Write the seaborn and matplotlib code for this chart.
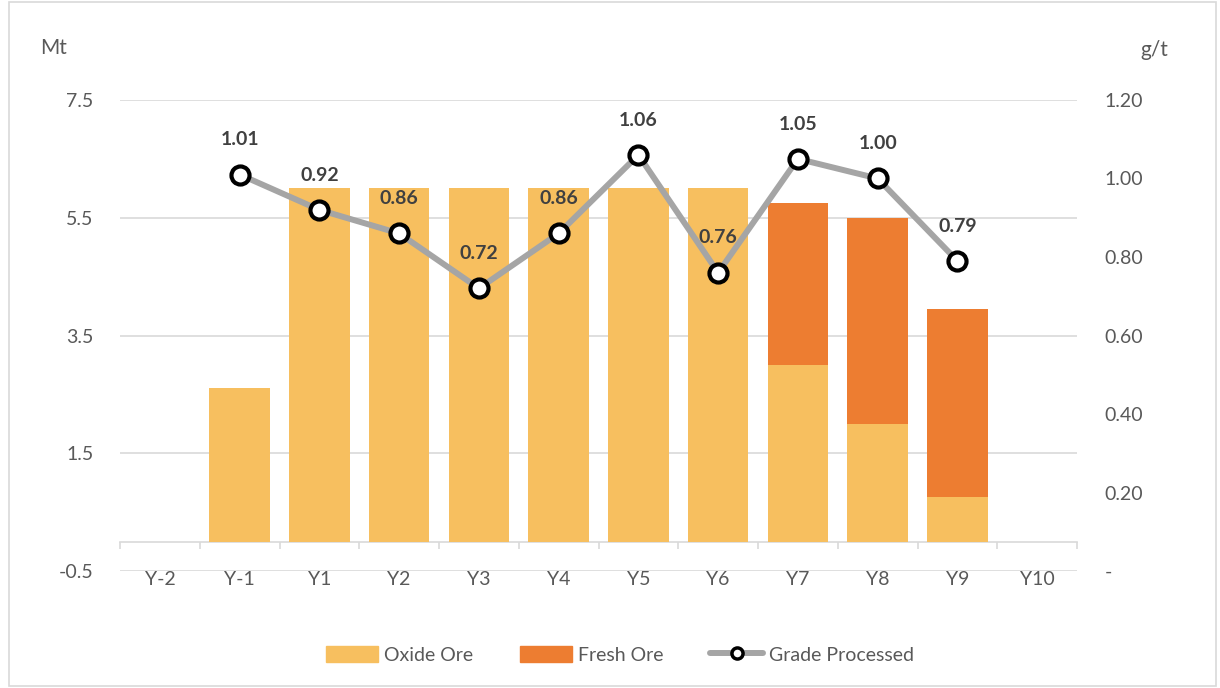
import numpy as np
import pandas as pd
import seaborn as sns
import matplotlib.pyplot as plt
from matplotlib.patches import Patch, Rectangle
from matplotlib.lines import Line2D

# data
years = ['Y-2', 'Y-1', 'Y1', 'Y2', 'Y3', 'Y4', 'Y5', 'Y6', 'Y7', 'Y8', 'Y9', 'Y10']
oxide = [0, 2.6, 6.0, 6.0, 6.0, 6.0, 6.0, 6.0, 3.0, 2.0, 0.75, 0]
fresh = [0, 0, 0, 0, 0, 0, 0, 0, 2.75, 3.5, 3.2, 0]
grade_years = ['Y-1', 'Y1', 'Y2', 'Y3', 'Y4', 'Y5', 'Y6', 'Y7', 'Y8', 'Y9']
grade = [1.01, 0.92, 0.86, 0.72, 0.86, 1.06, 0.76, 1.05, 1.00, 0.79]

oxide_col = '#F7BF5F'
fresh_col = '#ED7D31'
line_col = '#A5A5A5'
txt_col = '#595959'

sns.set_style('white')
plt.rcParams['font.family'] = ['Lato', 'DejaVu Sans']

df = pd.DataFrame({'year': years, 'oxide': oxide, 'fresh': fresh})
df['total'] = df['oxide'] + df['fresh']

fig = plt.figure(figsize=(12.2, 6.88), dpi=100)
ax = fig.add_axes([0.0984, 0.170, 0.7844, 0.6847])

# stacked bars: total first, oxide over it
sns.barplot(data=df, x='year', y='total', color=fresh_col, width=0.76,
            saturation=1, linewidth=0, ax=ax, zorder=2)
sns.barplot(data=df, x='year', y='oxide', color=oxide_col, width=0.76,
            saturation=1, linewidth=0, ax=ax, zorder=3)

ax.set_ylim(-0.5, 7.5)
ax.set_xlim(-0.5, len(years) - 0.5)
ax.set_yticks([-0.5, 1.5, 3.5, 5.5, 7.5])
ax.set_yticklabels(['-0.5', '1.5', '3.5', '5.5', '7.5'])
ax.yaxis.grid(True, color='#D9D9D9', linewidth=1.2, zorder=0)
ax.set_axisbelow(True)
ax.set_xlabel('')
ax.set_ylabel('')
for s in ['top', 'right', 'left']:
    ax.spines[s].set_visible(False)
ax.spines['bottom'].set_position(('data', 0))
ax.spines['bottom'].set_color('#D9D9D9')
ax.spines['bottom'].set_linewidth(1.2)
ax.set_xticks(np.arange(-0.5, len(years), 1.0), minor=True)
ax.tick_params(axis='x', which='major', bottom=True, length=0, pad=21, labelsize=14, labelcolor=txt_col)
ax.tick_params(axis='x', which='minor', bottom=True, direction='out', length=5, color='#D9D9D9', width=1.2)
ax.tick_params(axis='y', length=0, pad=19, labelsize=14, labelcolor=txt_col)

# grade line on right axis
ax2 = ax.twinx()
gx = [years.index(y) for y in grade_years]
sns.lineplot(x=gx, y=grade, ax=ax2, color=line_col, linewidth=4.3, marker='o',
             markersize=13, markerfacecolor='white', markeredgecolor='black',
             markeredgewidth=3, zorder=5)
for xi, g in zip(gx, grade):
    ax2.annotate(f'{g:.2f}', (xi, g), xytext=(0, 25), textcoords='offset points',
                 ha='center', va='center', fontsize=14, fontweight='bold', color='#404040')
ax2.set_ylim(0, 1.2)
ax2.set_yticks([0, 0.2, 0.4, 0.6, 0.8, 1.0, 1.2])
ax2.set_yticklabels(['-', '0.20', '0.40', '0.60', '0.80', '1.00', '1.20'])
ax2.tick_params(axis='y', length=0, pad=20, labelsize=14, labelcolor=txt_col)
for s in ax2.spines.values():
    s.set_visible(False)
ax.set_xlim(-0.5, len(years) - 0.5)

fig.text(40 / 1220, 1 - 48 / 688, 'Mt', fontsize=15, color=txt_col, ha='left', va='center')
fig.text(1140 / 1220, 1 - 50 / 688, 'g/t', fontsize=15, color=txt_col, ha='left', va='center')

handles = [Patch(color=oxide_col, label='Oxide Ore'),
           Patch(color=fresh_col, label='Fresh Ore'),
           Line2D([0], [0], color=line_col, linewidth=4.3, marker='o', markersize=8,
                  markerfacecolor='white', markeredgecolor='black', markeredgewidth=2.5,
                  label='Grade Processed')]
fig.legend(handles=handles, loc='center', bbox_to_anchor=(0.508, 0.048), ncol=3, frameon=False,
           fontsize=14, labelcolor=txt_col, handlelength=2.7, handleheight=0.9,
           columnspacing=2.4, handletextpad=0.3)

# outer chart border
fig.patches.append(Rectangle((0.007, 0.003), 0.99, 0.994, transform=fig.transFigure,
                             fill=False, edgecolor='#D9D9D9', linewidth=1.2))

fig.savefig('out.png', dpi=100)
